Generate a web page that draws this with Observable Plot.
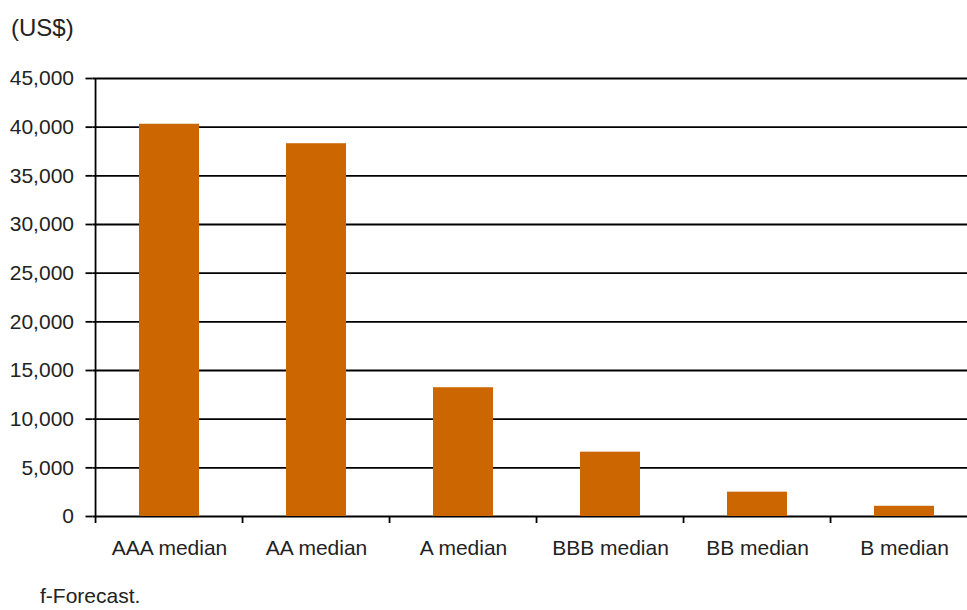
<!DOCTYPE html>
<html>
<head>
<meta charset="utf-8">
<script src="https://cdn.jsdelivr.net/npm/d3@7"></script>
<script src="https://cdn.jsdelivr.net/npm/@observablehq/plot@0.6"></script>
<style>
  html, body { margin: 0; padding: 0; background: #fff; overflow: hidden; width: 967px; height: 610px; }
  body { font-family: "Liberation Sans", Arial, sans-serif; color: #222; position: relative; }
  #unit { position: absolute; left: 11px; top: 14px; font-size: 24px; line-height: 28px; }
  #chart { position: absolute; left: 0; top: 50px; }
  #caption { position: absolute; left: 40px; top: 583px; font-size: 21px; line-height: 26px; }
  #chart svg { overflow: visible; }
</style>
</head>
<body>
<div id="unit">(US$)</div>
<div id="chart"></div>
<div id="caption">f-Forecast.</div>
<script>
const categories = ["AAA median", "AA median", "A median", "BBB median", "BB median", "B median"];
const values = [40300, 38300, 13230, 6610, 2500, 1050];
const yTicks = [0, 5000, 10000, 15000, 20000, 25000, 30000, 35000, 40000, 45000];

const data = categories.map((c, i) => ({category: c, value: values[i]}));

const xRange = [92.5, 980];
const step = (xRange[1] - xRange[0]) / categories.length;

const plot = Plot.plot({
  width: 967,
  height: 530,
  marginTop: 28,
  marginBottom: 64,
  marginLeft: 92.5,
  marginRight: 0,
  style: {fontFamily: "Liberation Sans, Arial, sans-serif", fontSize: "21px", color: "#222", overflow: "visible"},
  x: {domain: categories, range: xRange, paddingInner: 0.595, paddingOuter: 0.2975, align: 0.5},
  y: {domain: [0, 45000], range: [466, 28]},
  marks: [
    Plot.gridY({ticks: yTicks, stroke: "#000", strokeOpacity: 1, strokeWidth: 1.8}),
    Plot.barY(data, {x: "category", y: "value", fill: "#cc6600"}),
    Plot.axisY({ticks: yTicks, label: null, tickFormat: d3.format(","), tickSize: 7, tickPadding: 12, stroke: "#000", strokeWidth: 1.8, fill: "#222", fontSize: 21}),
    Plot.axisX({ticks: categories, label: null, tickSize: 7, text: null, dx: -step / 2, stroke: "#000", strokeWidth: 1.8}),
    Plot.axisX({ticks: categories, label: null, tickSize: 0, tickPadding: 24, fill: "#222", fontSize: 21}),
    Plot.ruleX([categories[0]], {x: d => d, y1: 0, y2: 45000, dx: -step / 2, stroke: "#000", strokeWidth: 1.8})
  ]
});
document.getElementById("chart").appendChild(plot);
</script>
</body>
</html>
